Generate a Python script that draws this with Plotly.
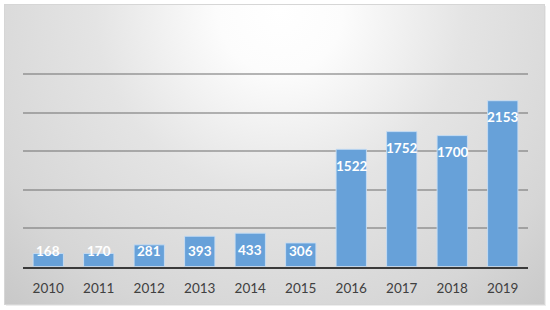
import base64
import plotly.graph_objects as go

years = ["2010", "2011", "2012", "2013", "2014", "2015", "2016", "2017", "2018", "2019"]
counts = [168, 170, 281, 393, 433, 306, 1522, 1752, 1700, 2153]

W, H = 550, 310

# chart-area background: soft radial gradient inside a thin frame
bg_svg = f'''<svg xmlns="http://www.w3.org/2000/svg" width="{W}" height="{H}" viewBox="0 0 {W} {H}" preserveAspectRatio="none">
<defs><radialGradient id="g" gradientUnits="userSpaceOnUse" cx="0" cy="0" r="1"
 gradientTransform="translate(280 10) scale(420 420)">
<stop offset="0" stop-color="#ffffff"/><stop offset="0.15" stop-color="#fcfcfc"/>
<stop offset="0.44" stop-color="#e4e4e4"/><stop offset="0.76" stop-color="#d6d6d6"/>
<stop offset="0.96" stop-color="#c8c8c8"/></radialGradient></defs>
<rect x="0" y="0" width="{W}" height="{H}" fill="#ffffff"/>
<rect x="6" y="6" width="540" height="300" fill="#000000" opacity="0.07"/>
<rect x="4.5" y="4.5" width="540" height="300" fill="url(#g)" stroke="#d6d6d6" stroke-width="1"/>
</svg>'''
bg_uri = "data:image/svg+xml;base64," + base64.b64encode(bg_svg.encode()).decode()

y_max = 2560
base_px, top_px = 266.5, 266.5 - y_max * 0.077

fig = go.Figure()
fig.add_trace(go.Bar(
    x=years, y=counts,
    marker=dict(color="#67a1d9", line=dict(color="rgba(200,222,244,0.9)", width=1)),
    hoverinfo="x+y",
))

# data labels: inside end, but kept inside the plot for short bars
for i, v in enumerate(counts):
    fig.add_annotation(
        x=i, y=max(v, 415), text=str(v), showarrow=False,
        yanchor="middle", yshift=-16.5,
        font=dict(family="Lato", size=13.5, color="white", weight="bold"),
    )

fig.update_layout(
    width=W, height=H,
    margin=dict(l=0, r=0, t=0, b=0, autoexpand=False),
    paper_bgcolor="white",
    plot_bgcolor="rgba(0,0,0,0)",
    showlegend=False,
    bargap=0.4,
    images=[dict(source=bg_uri, xref="paper", yref="paper", x=0, y=1,
                 sizex=1, sizey=1, sizing="stretch", xanchor="left",
                 yanchor="top", layer="below")],
    xaxis=dict(
        type="category", automargin=False,
        range=[-0.5, len(years) - 0.5],
        domain=[23 / W, 528 / W],
        showgrid=False, showline=True, linecolor="#3a3a3a", linewidth=2,
        ticks="", ticklabelstandoff=8,
        tickfont=dict(family="Lato", size=13.5, color="#404040"),
    ),
    yaxis=dict(
        automargin=False,
        domain=[(H - base_px) / H, (H - top_px) / H],
        range=[0, y_max], dtick=500, showticklabels=False,
        showgrid=True, gridcolor="rgba(110,110,110,0.5)", gridwidth=1.5,
        zeroline=False, fixedrange=True,
    ),
)

fig.write_html("out.html", config={"displayModeBar": False},
               post_script="document.body.style.margin='0';")
